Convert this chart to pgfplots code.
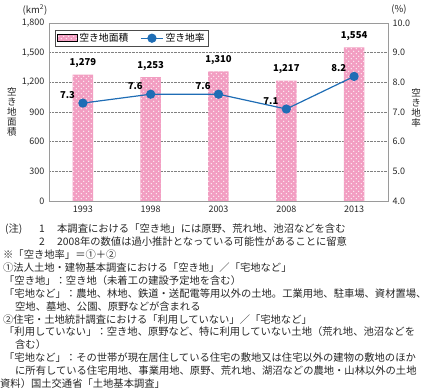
\documentclass[border=0pt]{standalone}
\usepackage{pgfplots}
\pgfplotsset{compat=1.18}
\usepackage{fontspec}
\setmainfont{Noto Sans CJK JP}
\usetikzlibrary{patterns.meta}
\definecolor{barpink}{HTML}{F29EC2}
\definecolor{lineblue}{HTML}{1F6DB5}
\definecolor{axisgray}{HTML}{9A9A9A}
\tikzdeclarepattern{
  name=pinkdots,
  type=uncolored,
  bottom left={(-.1pt,-.1pt)},
  top right={(5.1pt,5.1pt)},
  tile size={(5pt,5pt)},
  code={
    \pgfpathcircle{\pgfpoint{1.25pt}{1.25pt}}{0.65pt}
    \pgfpathcircle{\pgfpoint{3.75pt}{3.75pt}}{0.65pt}
    \pgfusepath{fill}
  }
}
\pgfplotsset{
  dotbar legend/.style={legend image code/.code={
    \fill[barpink] (0pt,-3.5pt) rectangle (20pt,3.5pt);
    \fill[pattern=pinkdots, pattern color=white] (0pt,-3.5pt) rectangle (20pt,3.5pt);}},
  dotline legend/.style={legend image code/.code={
    \draw[mark repeat=2,mark phase=2,##1] plot coordinates {(0pt,0pt)(11pt,0pt)(22pt,0pt)};}},
  common/.style={
    scale only axis, width=339pt, height=178pt,
    xmin=-0.5, xmax=4.5,
    major tick length=0pt,
    tick label style={font=\fontsize{9}{11}\selectfont, text=black!85},
    clip=false,
  },
}
\newcommand{\notefont}{\fontsize{10.3}{12}\selectfont}
% picture coordinates: P(x,y) with x,y in reference pixels from top-left
\newcommand{\noteline}[3]{\node[anchor=base west, inner sep=0pt, font=\notefont, text=black!85] at ({#1-49},{201-#2}) {#3};}
\begin{document}
\begin{tikzpicture}
\path[use as bounding box] (-49pt,201pt) rectangle (377pt,-189pt);
\begin{axis}[
  common,
  ymin=0, ymax=1800,
  xtick={0,1,2,3,4}, xticklabels={1993,1998,2003,2008,2013},
  ytick={0,300,600,900,1200,1500,1800},
  axis line style={axisgray, line width=0.9pt},
  ymajorgrids, grid style={gray, densely dotted, line width=0.6pt},
  ybar, bar width=20.5pt,
  /pgf/number format/assume math mode=true,
  /pgf/number format/1000 sep={,},
  yticklabel style={xshift=-1pt},
  xticklabel style={yshift=-1pt},
  nodes near coords,
  nodes near coords style={font=\fontsize{9.5}{11}\selectfont\bfseries, text=black, yshift=3pt},
]
\addplot[fill=barpink, draw=none, postaction={pattern=pinkdots, pattern color=white}]
  coordinates {(0,1279)(1,1253)(2,1310)(3,1217)(4,1554)};
\end{axis}
\begin{axis}[
  common,
  ymin=4, ymax=10,
  ytick={4,5,6,7,8,9,10},
  axis x line=none,
  axis y line*=right,
  y axis line style={axisgray, line width=0.9pt},
  /pgf/number format/assume math mode=true,
  /pgf/number format/fixed,
  /pgf/number format/fixed zerofill,
  /pgf/number format/precision=1,
  yticklabel style={xshift=1pt},
  legend columns=2,
  legend style={at={(0.018,0.963)}, anchor=north west, draw=black!70, line width=0.5pt,
    fill=white, font=\fontsize{9.8}{11}\selectfont, inner sep=1.5pt,
    /tikz/every even column/.append style={column sep=10pt}},
]
\addlegendimage{dotbar legend}
\addlegendentry{空き地面積}
\addplot[lineblue, line width=1.2pt, mark=*, mark size=4pt, mark options={fill=lineblue},
  nodes near coords,
  nodes near coords style={anchor=east, xshift=-4pt, yshift=8pt, text=black,
    font=\fontsize{9.5}{11}\selectfont\bfseries},
  dotline legend]
  coordinates {(0,7.3)(1,7.6)(2,7.6)(3,7.1)(4,8.2)};
\addlegendentry{空き地率}
\end{axis}
\node[font=\fontsize{9.5}{11}\selectfont, text=black!85] at (-14pt,191pt) {(km\textsuperscript{2})};
\node[font=\fontsize{9.5}{11}\selectfont, text=black!85] at (350pt,191pt) {(\%)};
\node[font=\fontsize{9.5}{10}\selectfont, align=center, text=black!85, inner sep=0pt] at (-37pt,89pt) {空\\き\\地\\面\\積};
\node[font=\fontsize{9.5}{10}\selectfont, align=center, text=black!85, inner sep=0pt] at (367pt,93pt) {空\\き\\地\\率};
\begin{scope}[x=1pt,y=1pt]
\noteline{5}{232.8}{(注)}
\noteline{39}{232.8}{1}
\noteline{57}{232.8}{本調査における「空き地」には原野、荒れ地、池沼などを含む}
\noteline{39}{245.7}{2}
\noteline{57}{245.7}{2008年の数値は過小推計となっている可能性があることに留意}
\noteline{3}{258.6}{※「空き地率」＝①＋②}
\noteline{3}{271.5}{①法人土地・建物基本調査における「空き地」／「宅地など」}
\noteline{4}{284.4}{「空き地」：空き地（未着工の建設予定地を含む）}
\noteline{4}{297.3}{「宅地など」：農地、林地、鉄道・送配電等用以外の土地。工業用地、駐車場、資材置場、}
\noteline{15}{310.2}{空地、墓地、公園、原野などが含まれる}
\noteline{3}{323.1}{②住宅・土地統計調査における「利用していない」／「宅地など」}
\noteline{4}{336.0}{「利用していない」：空き地、原野など、特に利用していない土地（荒れ地、池沼などを}
\noteline{15}{348.9}{含む）}
\noteline{4}{361.8}{「宅地など」：その世帯が現在居住している住宅の敷地又は住宅以外の建物の敷地のほか}
\noteline{15}{374.7}{に所有している住宅用地、事業用地、原野、荒れ地、湖沼などの農地・山林以外の土地}
\noteline{0}{387.6}{資料）国土交通省「土地基本調査」}
\end{scope}
\end{tikzpicture}
\end{document}
